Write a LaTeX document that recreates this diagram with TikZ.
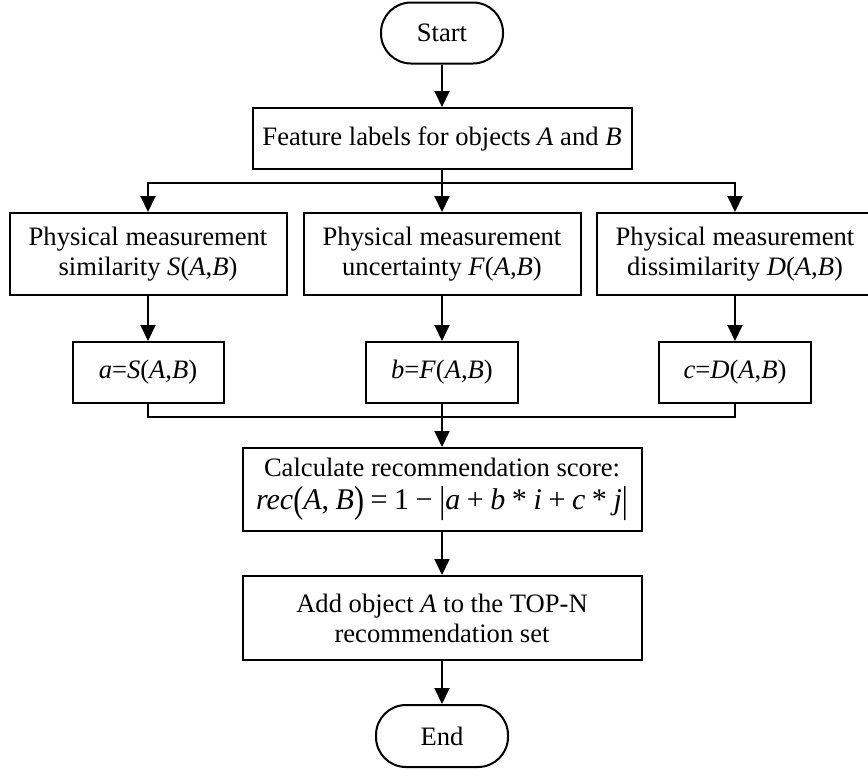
\documentclass[tikz,border=0pt]{standalone}
\usepackage{fontspec}
\setmainfont{Liberation Serif}
\usetikzlibrary{arrows.meta}
\newcommand{\bigsym}[1]{\raisebox{-0.09em}{\scalebox{1}[1.25]{#1}}}
\newcommand{\fsp}{\hspace{0.22em}}
\begin{document}
\begin{tikzpicture}[x=1pt,y=-1pt,
  box/.style={draw,line width=2pt,align=center,inner sep=0pt,font=\fontsize{26.6}{30}\selectfont},
  term/.style={box,rounded corners=30pt},
  arr/.style={line width=2pt,-{Triangle[length=16pt,width=15pt]}},
  ln/.style={line width=2pt}]
\useasboundingbox (0,0) rectangle (868,769);
\node[term,minimum width=122pt,minimum height=61pt] (start) at (442,33) {Start};
\node[box,minimum width=379pt,minimum height=61pt] (feat) at (442,138.5) {Feature labels for objects \textit{A} and \textit{B}};
\node[box,minimum width=277pt,minimum height=82pt] (p1) at (148,254) {Physical measurement\\similarity \textit{S}(\textit{A},\textit{B})};
\node[box,minimum width=277pt,minimum height=82pt] (p2) at (442,254) {Physical measurement\\uncertainty \textit{F}(\textit{A},\textit{B})};
\node[box,minimum width=276pt,minimum height=82pt] (p3) at (735,254) {Physical measurement\\dissimilarity \textit{D}(\textit{A},\textit{B})};
\node[box,minimum width=151pt,minimum height=61pt] (s1) at (148,372.5) {\textit{a}=\textit{S}(\textit{A},\textit{B})};
\node[box,minimum width=152pt,minimum height=61pt] (s2) at (442,372.5) {\textit{b}=\textit{F}(\textit{A},\textit{B})};
\node[box,minimum width=152pt,minimum height=61pt] (s3) at (735,372.5) {\textit{c}=\textit{D}(\textit{A},\textit{B})};
\node[box,minimum width=399pt,minimum height=83pt] (calc) at (442,489.5) {Calculate recommendation score:\\[3pt]
  {\fontsize{30}{30}\selectfont\textit{rec}\bigsym{(}\textit{A},\fsp\textit{B}\bigsym{)}\fsp=\fsp1\fsp−\fsp\bigsym{|}\textit{a}\fsp+\fsp\textit{b}\fsp*\fsp\textit{i}\fsp+\fsp\textit{c}\fsp*\fsp\textit{j}\bigsym{|}}};
\node[box,minimum width=399pt,minimum height=84pt] (add) at (442,618) {Add object \textit{A} to the TOP-N\\recommendation set};
\node[term,minimum width=132pt,minimum height=62pt] (end) at (442,736) {End};
\coordinate (j1) at (442,183);
\coordinate (j2) at (442,417);
\draw[arr] (start) -- (feat);
\draw[arr] (feat) -- (p2);
\draw[arr] (j1) -| (p1.north);
\draw[arr] (j1) -| (p3.north);
\draw[arr] (p1) -- (s1);
\draw[arr] (p2) -- (s2);
\draw[arr] (p3) -- (s3);
\draw[ln] (s1.south) |- (j2);
\draw[ln] (s3.south) |- (j2);
\draw[arr] (s2) -- (calc);
\draw[arr] (calc) -- (add);
\draw[arr] (add) -- (end);
\end{tikzpicture}
\end{document}
